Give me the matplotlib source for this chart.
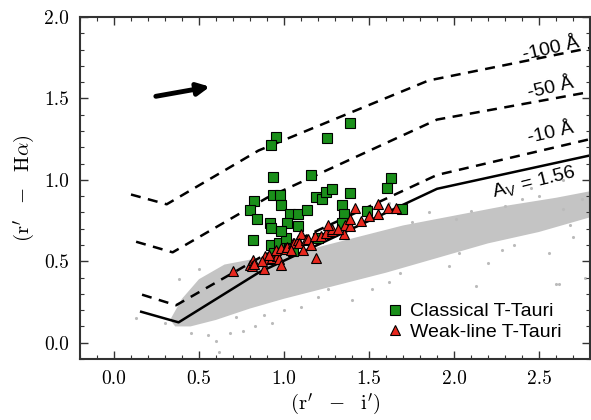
import numpy as np
import matplotlib
matplotlib.use("Agg")
import matplotlib.pyplot as plt
from matplotlib.ticker import MultipleLocator

plt.rcParams['mathtext.fontset'] = 'cm'

# unreddened main sequence reddened by A_V = 1.56 (solid) and EW(Halpha) lines (dashed)
av_x = [0.16, 0.38, 0.85, 1.90, 2.80]
av_y = [0.19, 0.125, 0.43, 0.945, 1.15]
ew10_x = [0.165, 0.365, 0.87, 1.90, 2.80]
ew10_y = [0.295, 0.23, 0.53, 1.03, 1.25]
ew50_x = [0.13, 0.345, 0.90, 1.90, 2.80]
ew50_y = [0.62, 0.555, 0.89, 1.37, 1.54]
ew100_x = [0.10, 0.31, 0.85, 1.85, 2.80]
ew100_y = [0.91, 0.85, 1.18, 1.61, 1.81]

# field star locus (outline of the dense cloud)
cloud_x = [0.33, 0.40, 0.50, 0.65, 0.85, 1.10, 1.40, 1.70, 2.00, 2.30, 2.60, 2.80,
           2.80, 2.50, 2.20, 1.90, 1.60, 1.30, 1.00, 0.80, 0.60, 0.45, 0.36]
cloud_y = [0.14, 0.27, 0.39, 0.48, 0.52, 0.56, 0.64, 0.72, 0.78, 0.84, 0.89, 0.93,
           0.77, 0.68, 0.61, 0.52, 0.43, 0.35, 0.27, 0.21, 0.14, 0.10, 0.10]
# scattered field stars outside the dense part
stray_x = [0.13, 0.38, 0.60, 0.62, 0.68, 0.76, 0.83, 0.93, 1.26, 1.40, 1.52, 1.62,
           1.68, 1.85, 1.97, 2.01, 2.03, 2.13, 2.20, 2.28, 2.30, 2.40, 2.56, 2.60,
           2.62, 2.64, 2.64, 2.70, 2.75, 2.77, 1.62, 1.79, 0.55, 0.50, 1.10, 2.45,
           0.30, 0.72, 1.00, 1.20, 1.75, 2.10, 2.35, 2.50, 2.68, 0.45, 0.88]
stray_y = [0.15, 0.39, 0.01, -0.06, 0.06, 0.07, 0.10, 0.12, 0.33, 0.26, 0.33, 0.37,
           0.43, 0.80, 0.47, 0.76, 0.55, 0.35, 0.49, 0.57, 0.84, 0.88, 0.55, 0.36,
           0.36, 0.82, 1.00, 0.65, 0.88, 0.40, 0.86, 0.98, 0.05, 0.45, 0.22, 0.95,
           0.12, 0.16, 0.20, 0.28, 0.74, 0.81, 0.60, 0.90, 0.72, 0.06, 0.17]

# Classical T-Tauri stars
ctts_x = [0.951, 0.922, 1.251, 1.388, 0.938, 1.161, 0.935, 0.976, 0.824, 0.800,
          0.981, 0.843, 1.034, 1.082, 1.137, 1.190, 1.225, 1.245, 1.281, 1.390,
          1.339, 0.915, 0.922, 1.019, 1.082, 1.353, 1.343, 0.819, 0.922, 0.971,
          1.014, 0.941, 1.055, 1.202, 1.490, 1.628, 1.604, 1.696, 0.981]
ctts_y = [1.266, 1.212, 1.260, 1.348, 1.018, 1.032, 0.908, 0.905, 0.870, 0.814,
          0.843, 0.761, 0.788, 0.788, 0.812, 0.894, 0.880, 0.925, 0.946, 0.921,
          0.847, 0.735, 0.706, 0.737, 0.716, 0.788, 0.737, 0.630, 0.603, 0.614,
          0.642, 0.552, 0.562, 0.644, 0.808, 1.009, 0.948, 0.819, 0.685]

# Weak-line T-Tauri stars
wtts_x = [0.70, 0.80, 0.82, 0.81, 0.824, 0.88, 0.89, 0.908, 0.93, 0.96, 0.97, 0.98,
          0.91, 0.95, 0.98, 1.01, 1.02, 1.05, 1.06, 1.08, 1.10, 1.09, 1.11, 1.13,
          1.14, 1.16, 1.18, 1.19, 1.22, 1.245, 1.28, 1.28, 1.35, 1.36, 1.39, 1.39,
          1.45, 1.42, 1.50, 1.55, 1.555, 1.61, 1.66, 1.04, 0.87, 1.26, 1.32]
wtts_y = [0.44, 0.48, 0.51, 0.47, 0.486, 0.45, 0.53, 0.515, 0.52, 0.53, 0.515, 0.48,
          0.54, 0.57, 0.58, 0.577, 0.59, 0.61, 0.614, 0.63, 0.665, 0.61, 0.57, 0.63,
          0.635, 0.60, 0.655, 0.52, 0.655, 0.675, 0.685, 0.70, 0.665, 0.72, 0.715, 0.76,
          0.75, 0.83, 0.775, 0.79, 0.85, 0.83, 0.83, 0.57, 0.50, 0.72, 0.70]

fig = plt.figure(figsize=(5.91, 4.20), dpi=100)
ax = fig.add_axes([80 / 591, 1 - 359 / 420, 510 / 591, 342 / 420])

ax.fill(cloud_x, cloud_y, color='#c4c4c4', lw=0, zorder=1)
ax.scatter(stray_x, stray_y, s=5, color='#bbbbbb', lw=0, zorder=1)

ax.plot(av_x, av_y, color='k', lw=1.8, zorder=2)
for xs, ys in [(ew10_x, ew10_y), (ew50_x, ew50_y), (ew100_x, ew100_y)]:
    ax.plot(xs, ys, color='k', lw=1.8, ls=(0, (4, 3)), zorder=2)

ax.plot(ctts_x, ctts_y, 's', ms=6.5, mfc='#1a8f1a', mec='k', mew=0.8,
        ls='none', label='Classical T-Tauri', zorder=3)
ax.plot(wtts_x, wtts_y, '^', ms=7.5, mfc='#e8281e', mec='k', mew=0.8,
        ls='none', label='Weak-line T-Tauri', zorder=4)

# reddening vector
ax.annotate('', xy=(0.58, 1.575), xytext=(0.23, 1.51),
            arrowprops=dict(arrowstyle='-|>', lw=3.5, color='k', mutation_scale=18))

sans = 'Liberation Sans'
ax.text(2.57, 1.80, '-100 Å', fontsize=14, family=sans, rotation=13,
        ha='center', va='center')
ax.text(2.57, 1.56, '-50 Å', fontsize=14, family=sans, rotation=13,
        ha='center', va='center')
ax.text(2.57, 1.285, '-10 Å', fontsize=14, family=sans, rotation=13,
        ha='center', va='center')
ax.text(2.47, 0.985, r'A$_\mathregular{V}$ = 1.56', fontsize=14, family=sans,
        rotation=14, ha='center', va='center')

leg = ax.legend(loc='lower right', bbox_to_anchor=(0.96, 0.03), frameon=False,
                handletextpad=0.3, labelspacing=0.15, borderaxespad=0,
                prop={'family': sans, 'size': 14}, handlelength=1.0)

ax.set_xlim(-0.2, 2.8)
ax.set_ylim(-0.1, 2.0)
ax.set_xticks([0.0, 0.5, 1.0, 1.5, 2.0, 2.5])
ax.set_yticks([0.0, 0.5, 1.0, 1.5, 2.0])
ax.set_xticklabels(['0.0', '0.5', '1.0', '1.5', '2.0', '2.5'], family='cmr10', fontsize=14)
ax.set_yticklabels(['0.0', '0.5', '1.0', '1.5', '2.0'], family='cmr10', fontsize=14)
ax.xaxis.set_minor_locator(MultipleLocator(0.1))
ax.yaxis.set_minor_locator(MultipleLocator(0.1))
ax.tick_params(which='both', direction='in', top=True, right=True, color='#333333')
ax.tick_params(which='major', length=6, width=1.0, pad=8)
ax.tick_params(which='minor', length=3, width=0.8)
for s in ax.spines.values():
    s.set_linewidth(1.5)
    s.set_color('#333333')

ax.set_xlabel(r'$(\mathrm{r}^{\prime}\ \ -\ \ \mathrm{i}^{\prime})$', fontsize=15, labelpad=2)
ax.set_ylabel(r'$(\mathrm{r}^{\prime}\ \ -\ \ \mathrm{H}\alpha)$', fontsize=15, labelpad=5)

fig.savefig('out.png', dpi=100)
